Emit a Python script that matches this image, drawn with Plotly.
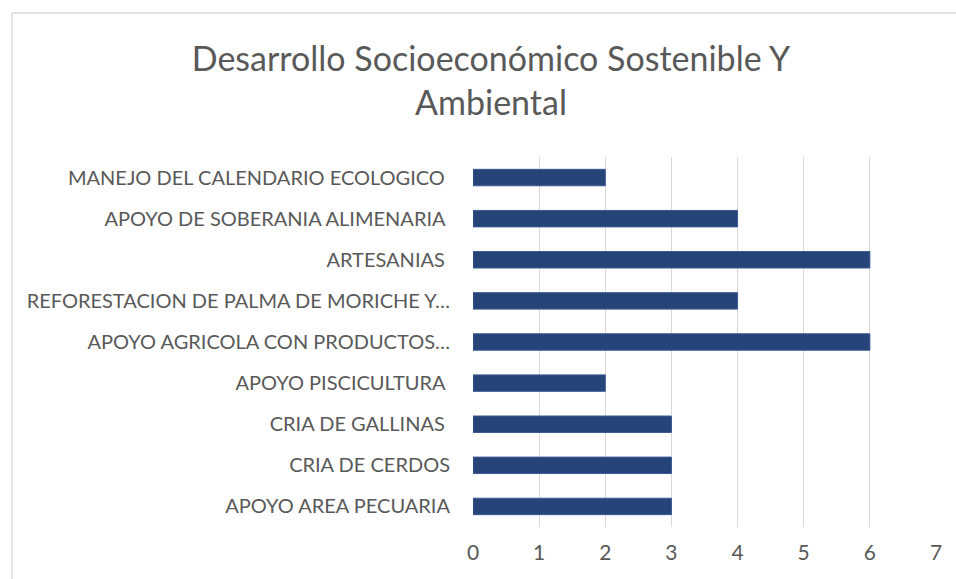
import plotly.graph_objects as go

CATEGORIES = [
    "MANEJO DEL CALENDARIO ECOLOGICO\u00a0",
    "APOYO DE SOBERANIA ALIMENARIA\u00a0",
    "ARTESANIAS\u00a0",
    "REFORESTACION DE PALMA DE MORICHE Y…",
    "APOYO AGRICOLA CON PRODUCTOS…",
    "APOYO PISCICULTURA\u00a0",
    "CRIA DE GALLINAS\u00a0",
    "CRIA DE CERDOS",
    "APOYO AREA PECUARIA",
]
VALUES = [2, 4, 6, 4, 6, 2, 3, 3, 3]
X_TICKS = [0, 1, 2, 3, 4, 5, 6, 7]

TEXT_COLOR = "#595959"
BAR_COLOR = "#264478"
BORDER_COLOR = "#d9d9d9"
FONT = "Lato, 'Open Sans', sans-serif"

W, H = 956, 579
ML, MR, MT, MB = 473, 20, 157, 52
PW, PH = W - ML - MR, H - MT - MB

fig = go.Figure(
    go.Bar(
        x=VALUES,
        y=CATEGORIES,
        orientation="h",
        width=0.4,
        marker=dict(color=BAR_COLOR, line=dict(color="#3a5a94", width=1)),
    )
)

# chart frame: only top and left edges are visible in the crop
frame_left = (12 - ML) / PW
frame_top = 1 + (MT - 13) / PH

fig.update_layout(
    width=W,
    height=H,
    margin=dict(l=ML, r=MR, t=MT, b=MB),
    paper_bgcolor="white",
    plot_bgcolor="white",
    showlegend=False,
    font=dict(family=FONT, color=TEXT_COLOR, size=20),
    title=dict(
        text="Desarrollo Socioeconómico Sostenible Y<br>Ambiental",
        x=491 / W,
        xanchor="center",
        y=1 - 71 / H,
        yanchor="middle",
        font=dict(size=34, color=TEXT_COLOR, family=FONT),
    ),
    shapes=[
        dict(type="line", xref="paper", yref="paper",
             x0=frame_left, x1=2, y0=frame_top, y1=frame_top,
             line=dict(color=BORDER_COLOR, width=1.3), layer="below"),
        dict(type="line", xref="paper", yref="paper",
             x0=frame_left, x1=frame_left, y0=-1, y1=frame_top,
             line=dict(color=BORDER_COLOR, width=1.3), layer="below"),
    ],
)

fig.update_xaxes(
    range=[0, 7],
    tickvals=X_TICKS,
    automargin=False,
    showgrid=True,
    gridcolor=BORDER_COLOR,
    gridwidth=1.3,
    zeroline=False,
    showline=False,
    ticks="",
    ticklabelstandoff=11,
    tickfont=dict(size=21, color=TEXT_COLOR),
)
fig.update_yaxes(
    autorange="reversed",
    automargin=False,
    showgrid=False,
    showline=False,
    ticks="",
    ticklabelstandoff=22,
    tickfont=dict(size=20, color=TEXT_COLOR),
)

# drop the default body margin so the figure sits flush in the window
fig.write_html(
    "out.html",
    config={"displayModeBar": False},
    post_script="document.body.style.margin='0';document.body.style.overflow='hidden';",
)
